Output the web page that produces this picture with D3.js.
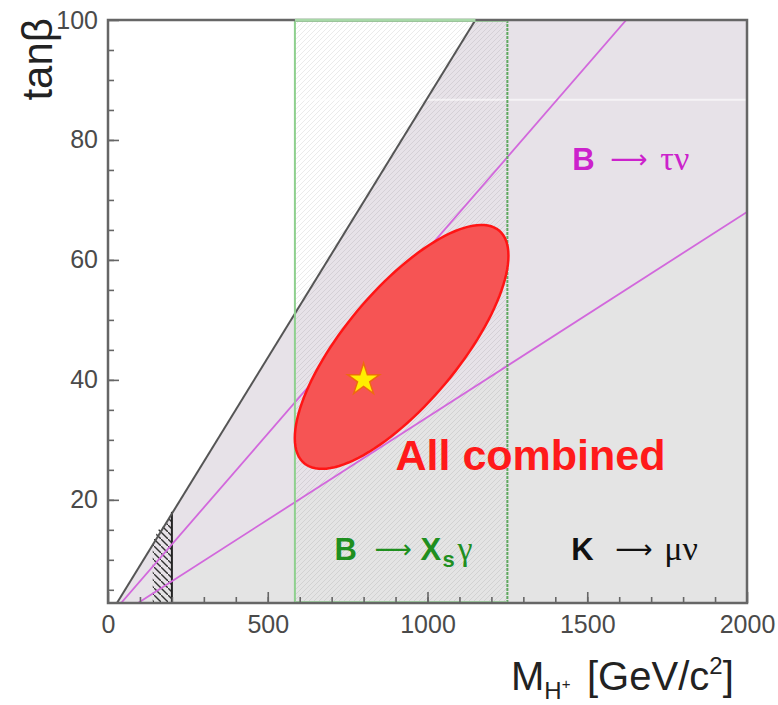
<!DOCTYPE html>
<html>
<head>
<meta charset="utf-8">
<script src="https://cdn.jsdelivr.net/npm/d3@7"></script>
<style>
  body { margin: 0; background: #fff; }
  svg { display: block; font-family: "Liberation Sans", Arial, Helvetica, sans-serif; }
</style>
</head>
<body>
<div id="chart"></div>
<script>
// axes
const xDomain = [0, 2000]
const yDomain = [2.8, 100]
const xTicks = [0, 500, 1000, 1500, 2000]
const yTicks = [20, 40, 60, 80, 100]

// boundaries, [M_H+ (GeV), tanβ]
const kmunuLine = [[28, 2.8], [1150, 100]]
const btaunuUpper = [[41, 2.8], [1622, 100]]
const btaunuLower = [[94, 2.8], [2000, 68]]
const bsgBand = [585, 1250]
const lepHatch = [[140, 2.8], [200, 2.8], [200, 18], [185, 16], [158, 15], [140, 13]]

// combined allowed region: centre and two half-axes (data units)
const ellCenter = [919, 45.5]
const ellMajor = [305, 19.4]
const ellMinor = [-137, 6.1]
const bestFit = [800, 40]

const width = 778
const height = 705
const margin = { top: 20, right: 31, bottom: 102, left: 108 }

const svg = d3.select('#chart').append('svg').attr('width', width).attr('height', height)

const x = d3.scaleLinear().domain(xDomain).range([margin.left, width - margin.right])
const y = d3.scaleLinear().domain(yDomain).range([height - margin.bottom, margin.top])

const defs = svg.append('defs')
defs.append('clipPath').attr('id', 'plotClip')
  .append('rect')
  .attr('x', x(xDomain[0])).attr('y', y(yDomain[1]))
  .attr('width', x(xDomain[1]) - x(xDomain[0]))
  .attr('height', y(yDomain[0]) - y(yDomain[1]))

const fine = defs.append('pattern').attr('id', 'fineHatch')
  .attr('patternUnits', 'userSpaceOnUse').attr('width', 5).attr('height', 5)
fine.append('path').attr('d', 'M-1,1 l2,-2 M0,5 l5,-5 M4,6 l2,-2')
  .attr('stroke', 'rgba(0,0,0,0.08)').attr('stroke-width', 1)

const dark = defs.append('pattern').attr('id', 'darkHatch')
  .attr('patternUnits', 'userSpaceOnUse').attr('width', 7).attr('height', 7)
dark.append('path').attr('d', 'M-1,-1 l2,2 M0,0 l7,7 M6,6 l2,2')
  .attr('stroke', '#333').attr('stroke-width', 1.4)

const plot = svg.append('g').attr('clip-path', 'url(#plotClip)')
const toPx = (p) => [x(p[0]), y(p[1])]
const line = d3.line()

// K -> mu nu excluded (below black line)
const grayPoly = [kmunuLine[0], kmunuLine[1], [xDomain[1], yDomain[1]], [xDomain[1], yDomain[0]]]
plot.append('path').attr('d', line(grayPoly.map(toPx)) + 'Z').attr('fill', '#e4e4e4')

// B -> tau nu tint
const pinkPoly = [kmunuLine[0], btaunuLower[0], btaunuLower[1], [xDomain[1], yDomain[1]], kmunuLine[1]]
plot.append('path').attr('d', line(pinkPoly.map(toPx)) + 'Z').attr('fill', '#e7e2e8')

// B -> Xs gamma band hatch
plot.append('rect')
  .attr('x', x(bsgBand[0])).attr('y', y(yDomain[1]))
  .attr('width', x(bsgBand[1]) - x(bsgBand[0]))
  .attr('height', y(yDomain[0]) - y(yDomain[1]))
  .attr('fill', 'url(#fineHatch)')

// scan stripe in the source image
plot.append('line')
  .attr('x1', x(xDomain[0])).attr('x2', x(xDomain[1]))
  .attr('y1', y(86.7)).attr('y2', y(86.7))
  .attr('stroke', 'rgba(255,255,255,0.6)').attr('stroke-width', 2)

// LEP hatch
plot.append('path').attr('d', line(lepHatch.map(toPx)) + 'Z').attr('fill', 'url(#darkHatch)')
plot.append('line')
  .attr('x1', x(200)).attr('x2', x(200)).attr('y1', y(yDomain[0])).attr('y2', y(18))
  .attr('stroke', '#222').attr('stroke-width', 2)

// boundary lines
plot.append('path').attr('d', line(kmunuLine.map(toPx)))
  .attr('stroke', '#555').attr('stroke-width', 2).attr('fill', 'none')
for (const l of [btaunuUpper, btaunuLower]) {
  plot.append('path').attr('d', line(l.map(toPx)))
    .attr('stroke', '#d268dc').attr('stroke-width', 1.8).attr('fill', 'none')
}

// green band edges
plot.append('line')
  .attr('x1', x(bsgBand[0])).attr('x2', x(bsgBand[0])).attr('y1', y(yDomain[0])).attr('y2', y(yDomain[1]))
  .attr('stroke', '#8fd08f').attr('stroke-width', 2)
plot.append('line')
  .attr('x1', x(bsgBand[1])).attr('x2', x(bsgBand[1])).attr('y1', y(yDomain[0])).attr('y2', y(yDomain[1]))
  .attr('stroke', '#5fa85f').attr('stroke-width', 2).attr('stroke-dasharray', '3,1')
plot.append('line')
  .attr('x1', x(bsgBand[0])).attr('x2', x(bsgBand[1])).attr('y1', y(yDomain[1]) + 1).attr('y2', y(yDomain[1]) + 1)
  .attr('stroke', '#a8dca8').attr('stroke-width', 2)
plot.append('line')
  .attr('x1', x(bsgBand[0])).attr('x2', x(bsgBand[1])).attr('y1', y(yDomain[0]) - 1).attr('y2', y(yDomain[0]) - 1)
  .attr('stroke', '#a8dca8').attr('stroke-width', 2)

// combined ellipse
const ellPts = d3.range(0, 2 * Math.PI, Math.PI / 60).map((t) => [
  ellCenter[0] + Math.cos(t) * ellMajor[0] + Math.sin(t) * ellMinor[0],
  ellCenter[1] + Math.cos(t) * ellMajor[1] + Math.sin(t) * ellMinor[1],
])
plot.append('path').attr('d', line(ellPts.map(toPx)) + 'Z')
  .attr('fill', '#f65454').attr('stroke', '#ff1515').attr('stroke-width', 2.5)

plot.append('path')
  .attr('d', d3.symbol(d3.symbolStar, 320)())
  .attr('transform', `translate(${x(bestFit[0])},${y(bestFit[1])})`)
  .attr('fill', '#ffee00').attr('stroke', '#ee6a10').attr('stroke-width', 1.5)

// frame
svg.append('rect')
  .attr('x', x(xDomain[0])).attr('y', y(yDomain[1]))
  .attr('width', x(xDomain[1]) - x(xDomain[0]))
  .attr('height', y(yDomain[0]) - y(yDomain[1]))
  .attr('fill', 'none').attr('stroke', '#666').attr('stroke-width', 2.5)
svg.append('line')
  .attr('x1', x(bsgBand[0])).attr('x2', x(kmunuLine[1][0])).attr('y1', y(yDomain[1])).attr('y2', y(yDomain[1]))
  .attr('stroke', '#a8d8a8').attr('stroke-width', 2.5)

// axes (ticks point inward)
const fmt = d3.format('d')
const xAxisG = svg.append('g').attr('transform', `translate(0,${y(yDomain[0])})`)
xAxisG.call(d3.axisBottom(x).tickValues(d3.range(100, 2000, 100)).tickSize(-6).tickFormat(''))
xAxisG.append('g').call(d3.axisBottom(x).tickValues(xTicks).tickSize(-11).tickPadding(12).tickFormat(fmt))
const yAxisG = svg.append('g').attr('transform', `translate(${x(xDomain[0])},0)`)
yAxisG.call(d3.axisLeft(y).tickValues(d3.range(5, 100, 5)).tickSize(-6).tickFormat(''))
yAxisG.append('g').call(d3.axisLeft(y).tickValues(yTicks).tickSize(-11).tickPadding(10).tickFormat(fmt))
svg.selectAll('.domain').remove()
svg.selectAll('.tick line').attr('stroke', '#666').attr('stroke-width', 1.6)
svg.selectAll('.tick text').attr('fill', '#4a4a4a').attr('font-size', 25).attr('font-family', null)

// axis titles
svg.append('text')
  .attr('transform', `translate(52,${y(yDomain[1]) - 2}) rotate(-90)`)
  .attr('text-anchor', 'end').attr('font-size', 42).attr('fill', '#222')
  .text('tanβ')

const xt = svg.append('text').attr('x', 511).attr('y', 690).attr('font-size', 40).attr('fill', '#222')
xt.append('tspan').text('M')
xt.append('tspan').attr('font-size', 24).attr('dy', 9).text('H')
xt.append('tspan').attr('font-size', 15).attr('dy', -10).text('+')
xt.append('tspan').attr('dy', 1).attr('x', 587).text('[GeV/c')
xt.append('tspan').attr('font-size', 24).attr('dy', -16).text('2')
xt.append('tspan').attr('dy', 16).text(']')

// annotations
const serif = '"Liberation Serif", "Times New Roman", serif'
const arrowFont = '"DejaVu Sans", sans-serif'
function reaction(gx, gy, color, parts) {
  const t = svg.append('text').attr('x', x(gx)).attr('y', y(gy)).attr('fill', color).attr('font-size', 31)
  for (const p of parts) {
    const s = t.append('tspan').attr('x', x(gx) + p.dx).attr('dy', p.dy || 0).text(p.text)
    if (p.bold) s.attr('font-weight', 'bold')
    if (p.font) s.attr('font-family', p.font)
    if (p.size) s.attr('font-size', p.size)
  }
}
reaction(1453, 75, '#cc22cc', [
  { text: 'B', bold: true, dx: 0 },
  { text: '⟶', font: arrowFont, dx: 38, size: 26, dy: -2 },
  { text: 'τν', font: serif, dx: 88, size: 34, dy: 2 },
])
reaction(709, 10, '#1f8f1f', [
  { text: 'B', bold: true, dx: 0 },
  { text: '⟶', font: arrowFont, dx: 40, size: 26, dy: -2 },
  { text: 'X', bold: true, dx: 86, dy: 2 },
  { text: 's', bold: true, dx: 108, dy: 7, size: 22 },
  { text: 'γ', font: serif, dx: 123, dy: -7, size: 34 },
])
reaction(1450, 10, '#111', [
  { text: 'K', bold: true, dx: 0 },
  { text: '⟶', font: arrowFont, dx: 44, size: 26, dy: -2 },
  { text: 'μν', font: serif, dx: 93, size: 34, dy: 2 },
])

svg.append('text')
  .attr('x', x(900)).attr('y', y(25))
  .attr('fill', '#ff1a1a').attr('font-size', 43).attr('font-weight', 'bold')
  .text('All combined')
</script>
</body>
</html>
